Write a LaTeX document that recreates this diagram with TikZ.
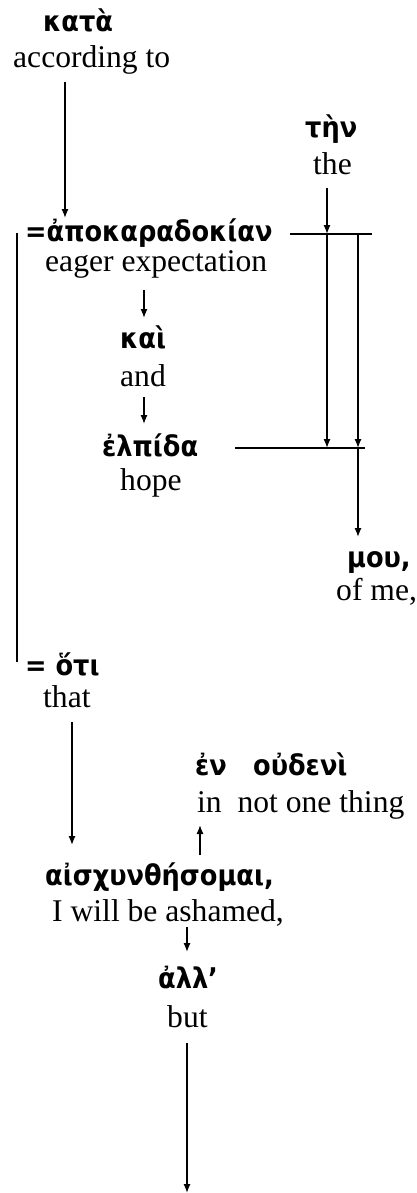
\documentclass[tikz,border=0pt]{standalone}
\usepackage{fontspec}
\setmainfont{Liberation Serif}
\newfontfamily\grk{DejaVu Sans Condensed}[Script=Greek]
\usetikzlibrary{arrows.meta}
\tikzset{
  gk/.style={inner sep=0pt, anchor=base west, font=\grk\bfseries\fontsize{28.5}{30}\selectfont},
  en/.style={inner sep=0pt, anchor=base west, font=\fontsize{31.6}{33}\selectfont},
  arr/.style={-{Latex[length=9pt,width=7pt]}, line width=1.3pt},
  ln/.style={line width=1.3pt}
}
\begin{document}
\begin{tikzpicture}[x=1pt,y=-1pt]
\useasboundingbox (0,0) rectangle (417,1193);
% texts
\node[gk] (kata) at (43,32) {κατὰ};
\node[en] (kataE) at (13,68) {according to};
\node[gk] (ten) at (305,138) {τὴν};
\node[en] (tenE) at (313,175) {the};
\node[gk] (apo) at (25,241) {=ἀποκαραδοκίαν};
\node[en] (apoE) at (45,271) {eager expectation};
\node[gk] (kai) at (120,348) {καὶ};
\node[en] (kaiE) at (120,386) {and};
\node[gk] (elp) at (102,456) {ἐλπίδα};
\node[en] (elpE) at (120,490) {hope};
\node[gk] (mou) at (347,567) {μου,};
\node[en] (mouE) at (336,600) {of me,};
\node[gk] (hoti) at (25,675) {= ὅτι};
\node[en] (hotiE) at (43,707) {that};
\node[gk] (en) at (195,775) {ἐν};
\node[gk] (oud) at (253,775) {οὐδενὶ};
\node[en] (enE) at (197,812) {in\ \ not one thing};
\node[gk] (ais) at (45,885) {αἰσχυνθήσομαι,};
\node[en] (aisE) at (52,921) {I will be ashamed,};
\node[gk] (all) at (158,988) {ἀλλ’};
\node[en] (allE) at (167,1027) {but};
% coordinates
\coordinate (k1) at (65,82);
\coordinate (k2) at (65,218);
\coordinate (t1) at (327,188);
\coordinate (t2) at (327,234);
\coordinate (h1) at (290,234);
\coordinate (h2) at (372,234);
\coordinate (v2) at (358,234);
\coordinate (e1) at (235,448);
\coordinate (e2) at (365,448);
\coordinate (t3) at (327,448);
\coordinate (v3) at (358,448);
\coordinate (m1) at (358,537);
\coordinate (l1) at (17,233);
\coordinate (l2) at (17,662);
\coordinate (a1) at (144,290);
\coordinate (a2) at (144,318);
\coordinate (b1) at (144,397);
\coordinate (b2) at (144,424);
\coordinate (c1) at (72,722);
\coordinate (c2) at (72,845);
\coordinate (d1) at (200,855);
\coordinate (d2) at (200,825);
\coordinate (f1) at (187,927);
\coordinate (f2) at (187,952);
\coordinate (g1) at (187,1043);
\coordinate (g2) at (187,1193);
% connectors
\draw[arr] (k1) -- (k2);
\draw[arr] (t1) -- (t2);
\draw[ln] (h1) -- (h2);
\draw[arr] (t2) -- (t3);
\draw[arr] (v2) -- (v3);
\draw[ln] (e1) -- (e2);
\draw[arr] (v3) -- (m1);
\draw[ln] (l1) -- (l2);
\draw[arr] (a1) -- (a2);
\draw[arr] (b1) -- (b2);
\draw[arr] (c1) -- (c2);
\draw[arr] (d1) -- (d2);
\draw[arr] (f1) -- (f2);
\draw[arr] (g1) -- (g2);
\end{tikzpicture}
\end{document}
